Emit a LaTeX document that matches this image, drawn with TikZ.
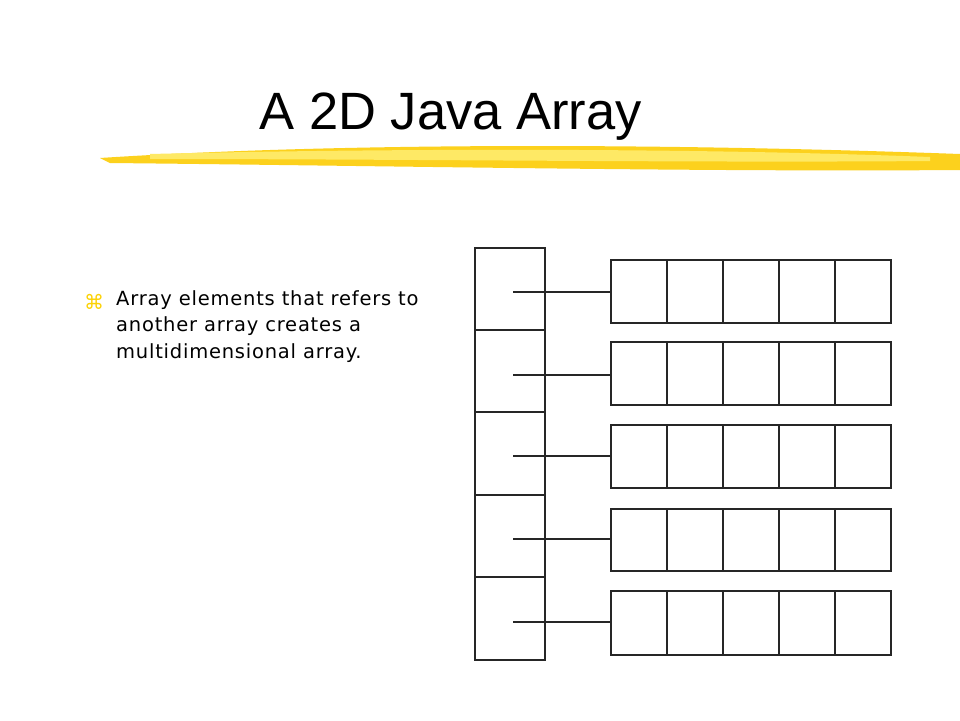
\documentclass[tikz,border=0pt]{standalone}
\usepackage{fontspec}
\setmainfont{DejaVu Sans}[LetterSpace=4]
\newfontfamily\titlefont{Liberation Sans}
\begin{document}
\begin{tikzpicture}[x=1pt,y=-1pt,
  cell/.style={draw=black!85,line width=2.4pt},
  link/.style={draw=black!85,line width=2.2pt}]
\useasboundingbox (0,0) rectangle (960,720);
\fill[white] (0,0) rectangle (960,720);
% brush stroke
\fill[yellow!65!orange!90!white] (100,158) .. controls (300,145) and (600,141) .. (960,154)
  -- (960,170) .. controls (700,172) and (400,166) .. (110,163) -- cycle;
\fill[yellow!80!orange!60!white] (150,154) .. controls (400,148) and (700,148) .. (930,157)
  -- (930,161) .. controls (700,163) and (400,159) .. (150,159) -- cycle;
\node[font=\titlefont\fontsize{52.5}{54}\selectfont,anchor=base west] (title) at (256,129) {A 2D Java Array};
\node[font=\fontsize{20}{20}\selectfont,text=yellow!70!orange,anchor=base] (bul) at (94,309) {⌘};
\node[font=\fontsize{19.5}{26.5}\selectfont,anchor=north west,align=left,inner sep=0pt] (txt) at (116,290)
  {Array elements that refers to\\another array creates a\\multidimensional array.};
% left column
\foreach \i/\ya/\yb in {1/248/330,2/330/412,3/412/495,4/495/577,5/577/660}{
  \node[cell,minimum width=70pt,minimum height={\yb-\ya},inner sep=0pt] (L\i) at (510,{(\ya+\yb)/2}) {};
}
\foreach \r/\ya/\yb/\yc in {1/260/323/292,2/342/405/375,3/425/488/456,4/509/571/539,5/591/655/622}{
  \foreach \c/\xa in {1/611,2/667,3/723,4/779,5/835}{
    \node[cell,minimum width=56pt,minimum height={\yb-\ya},inner sep=0pt] (R\r\c) at ({\xa+28},{(\ya+\yb)/2}) {};
  }
  \coordinate (s\r) at (513,\yc);
  \draw[link] (s\r) -- (s\r -| R\r1.west);
}
\end{tikzpicture}
\end{document}
